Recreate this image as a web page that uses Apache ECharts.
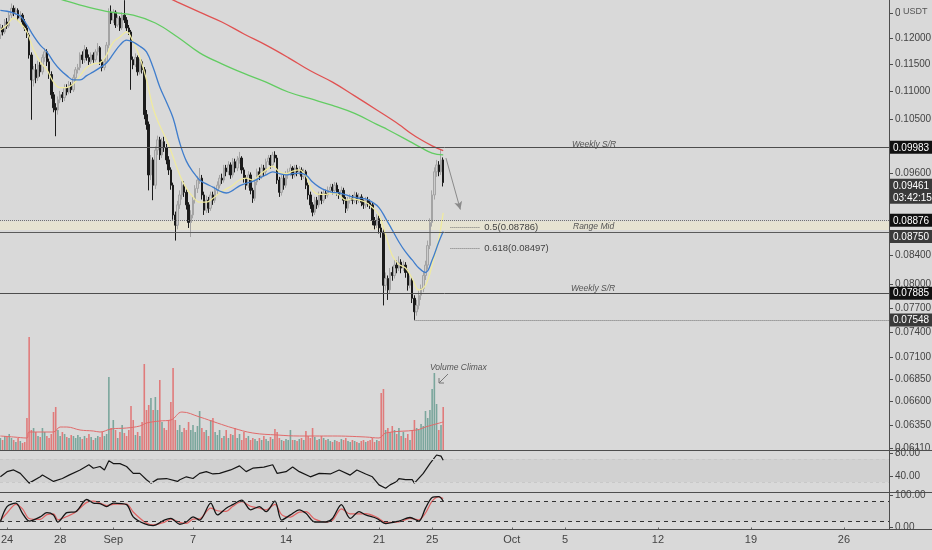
<!DOCTYPE html>
<html>
<head>
<meta charset="utf-8">
<script src="https://cdn.jsdelivr.net/npm/echarts@6.0.0/dist/echarts.min.js"></script>
<style>
  html, body { margin: 0; padding: 0; background: #d9d9d9; }
  #chart { width: 932px; height: 550px; }
</style>
</head>
<body>
<div id="chart"></div>
<script>
// 4h candles, the first one opens 2020-08-23 12:00 UTC
var startTime = Date.UTC(2020, 7, 23, 12);
var step = 4 * 3600 * 1000;
var xMin = Date.UTC(2020, 7, 23, 11, 20);
var xMax = Date.UTC(2020, 9, 29, 9, 20);

// [open, close, low, high]
var candles = [
  [.1206,.1220,.1198,.1228],[.1220,.1212,.1205,.1226],[.1212,.1232,.1208,.1238],[.1232,.1224,.1218,.1240],
  [.1224,.1246,.1220,.1252],[.1246,.1260,.1240,.1270],[.1260,.1252,.1244,.1266],[.1252,.1256,.1246,.1262],
  [.1256,.1240,.1234,.1260],[.1240,.1246,.1236,.1254],[.1246,.1232,.1226,.1250],[.1232,.1220,.1214,.1238],
  [.1220,.1206,.1200,.1226],[.1206,.1167,.1160,.1210],[.1167,.1120,.1049,.1172],[.1120,.1139,.1108,.1146],
  [.1139,.1124,.1114,.1150],[.1124,.1148,.1118,.1156],[.1148,.1135,.1126,.1154],[.1135,.1162,.1130,.1168],
  [.1162,.1173,.1154,.1180],[.1173,.1154,.1146,.1178],[.1154,.1130,.1122,.1160],[.1130,.1093,.1086,.1136],
  [.1093,.1070,.1062,.1098],[.1070,.1066,.1021,.1078],[.1066,.1084,.1058,.1090],[.1084,.1093,.1078,.1100],
  [.1093,.1088,.1080,.1098],[.1088,.1106,.1082,.1112],[.1106,.1098,.1092,.1112],[.1098,.1111,.1094,.1118],
  [.1111,.1102,.1096,.1116],[.1102,.1124,.1098,.1130],[.1124,.1139,.1118,.1144],[.1139,.1143,.1132,.1150],
  [.1143,.1167,.1138,.1172],[.1167,.1158,.1150,.1174],[.1158,.1177,.1152,.1186],[.1177,.1162,.1156,.1182],
  [.1162,.1154,.1148,.1168],[.1154,.1167,.1150,.1172],[.1167,.1158,.1152,.1172],[.1158,.1173,.1154,.1178],
  [.1173,.1181,.1166,.1190],[.1181,.1154,.1148,.1184],[.1154,.1143,.1136,.1158],[.1143,.1154,.1138,.1160],
  [.1154,.1186,.1150,.1192],[.1186,.1252,.1180,.1260],[.1252,.1236,.1228,.1266],[.1236,.1252,.1230,.1258],
  [.1252,.1226,.1220,.1256],[.1226,.1240,.1222,.1246],[.1240,.1220,.1214,.1244],[.1220,.1246,.1216,.1252],
  [.1246,.1236,.1230,.1277],[.1236,.1220,.1214,.1242],[.1220,.1212,.1206,.1226],[.1212,.1158,.1102,.1216],
  [.1158,.1148,.1140,.1164],[.1148,.1162,.1144,.1170],[.1162,.1135,.1128,.1166],[.1135,.1154,.1130,.1160],
  [.1154,.1139,.1132,.1158],[.1139,.1058,.1050,.1144],[.1058,.1041,.1032,.1066],[.1041,.0958,.0934,.1046],
  [.0958,.0982,.0950,.0990],[.0982,.0942,.0919,.0986],[.0942,.0998,.0936,.1004],[.0998,.1015,.0990,.1022],
  [.1015,.0990,.0982,.1020],[.0990,.1012,.0985,.1018],[.1012,.1002,.0995,.1020],[.1002,.0982,.0975,.1008],
  [.0982,.0966,.0958,.0988],[.0966,.0942,.0935,.0970],[.0942,.0897,.0890,.0946],[.0897,.0882,.0860,.0902],
  [.0882,.0912,.0876,.0918],[.0912,.0927,.0906,.0934],[.0927,.0942,.0920,.0948],[.0942,.0931,.0924,.0948],
  [.0931,.0912,.0905,.0936],[.0912,.0886,.0878,.0916],[.0886,.0897,.0865,.0904],[.0897,.0919,.0892,.0924],
  [.0919,.0937,.0914,.0942],[.0937,.0950,.0930,.0956],[.0950,.0953,.0944,.0969],[.0953,.0927,.0920,.0958],
  [.0927,.0904,.0897,.0932],[.0904,.0919,.0900,.0926],[.0919,.0907,.0900,.0924],[.0907,.0927,.0903,.0932],
  [.0927,.0919,.0912,.0932],[.0919,.0934,.0915,.0940],[.0934,.0942,.0928,.0948],[.0942,.0953,.0937,.0958],
  [.0953,.0950,.0944,.0960],[.0950,.0969,.0946,.0974],[.0969,.0963,.0956,.0974],[.0963,.0974,.0958,.0980],
  [.0974,.0958,.0952,.0978],[.0958,.0979,.0954,.0985],[.0979,.0969,.0962,.0984],[.0969,.0982,.0964,.0988],
  [.0982,.0985,.0976,.0995],[.0985,.0966,.0960,.0988],[.0966,.0953,.0946,.0970],[.0953,.0942,.0935,.0958],
  [.0942,.0958,.0938,.0964],[.0958,.0934,.0928,.0962],[.0934,.0922,.0915,.0938],[.0922,.0947,.0918,.0952],
  [.0947,.0963,.0942,.0968],[.0963,.0956,.0950,.0970],[.0956,.0969,.0952,.0975],[.0969,.0963,.0956,.0974],
  [.0963,.0979,.0958,.0984],[.0979,.0985,.0974,.0990],[.0985,.0974,.0968,.0990],[.0974,.0990,.0970,.0995],
  [.0990,.0985,.0978,.0996],[.0985,.0950,.0944,.0990],[.0950,.0931,.0924,.0955],[.0931,.0953,.0926,.0958],
  [.0953,.0942,.0935,.0958],[.0942,.0958,.0938,.0964],[.0958,.0963,.0952,.0968],[.0963,.0969,.0956,.0975],
  [.0969,.0958,.0952,.0972],[.0958,.0969,.0954,.0974],[.0969,.0963,.0956,.0974],[.0963,.0966,.0958,.0972],
  [.0966,.0956,.0950,.0970],[.0956,.0963,.0952,.0968],[.0963,.0942,.0936,.0966],[.0942,.0927,.0920,.0946],
  [.0927,.0912,.0906,.0932],[.0912,.0901,.0895,.0916],[.0901,.0919,.0897,.0924],[.0919,.0912,.0906,.0924],
  [.0912,.0927,.0908,.0932],[.0927,.0919,.0913,.0932],[.0919,.0930,.0915,.0936],[.0930,.0927,.0921,.0935],
  [.0927,.0934,.0923,.0940],[.0934,.0939,.0930,.0944],[.0939,.0934,.0928,.0944],[.0934,.0942,.0930,.0947],
  [.0942,.0931,.0926,.0946],[.0931,.0927,.0921,.0936],[.0927,.0934,.0923,.0940],[.0934,.0919,.0913,.0938],
  [.0919,.0907,.0900,.0924],[.0907,.0919,.0903,.0924],[.0919,.0922,.0914,.0928],[.0922,.0919,.0913,.0927],
  [.0919,.0927,.0915,.0932],[.0927,.0919,.0913,.0931],[.0919,.0924,.0915,.0930],[.0924,.0916,.0910,.0928],
  [.0916,.0912,.0906,.0920],[.0912,.0919,.0907,.0924],[.0919,.0915,.0909,.0924],[.0915,.0912,.0906,.0920],
  [.0912,.0889,.0882,.0916],[.0889,.0882,.0876,.0894],[.0882,.0892,.0878,.0898],[.0892,.0878,.0870,.0896],
  [.0878,.0872,.0864,.0884],[.0872,.0799,.0773,.0876],[.0799,.0808,.0792,.0816],[.0808,.0793,.0780,.0812],
  [.0793,.0816,.0788,.0822],[.0816,.0812,.0805,.0824],[.0812,.0826,.0808,.0834],[.0826,.0822,.0815,.0832],
  [.0822,.0830,.0818,.0838],[.0830,.0822,.0815,.0834],[.0822,.0826,.0818,.0832],[.0826,.0816,.0809,.0830],
  [.0816,.0799,.0792,.0820],[.0799,.0806,.0795,.0812],[.0806,.0782,.0776,.0810],[.0782,.0765,.07548,.0786],
  [.0765,.0773,.0760,.0780],[.0773,.0786,.0768,.0792],[.0786,.0795,.0780,.0800],[.0795,.0812,.0790,.0818],
  [.0812,.0826,.0806,.0832],[.0826,.0853,.0820,.0860],[.0853,.0886,.0848,.0892],[.0886,.0927,.0880,.0934],
  [.0927,.0963,.0920,.0970],[.0963,.0974,.0955,.0982],[.0974,.0963,.0956,.0980],[.0963,.0982,.0958,.09983],
  [.0982,.09461,.0940,.0986]
];

var volumes = [
  12,10,14,13,16,12,10,8,12,9,7,8,32,113,20,22,18,14,13,22,18,14,12,16,38,
  43,20,14,18,16,13,12,15,14,12,15,13,11,14,12,16,13,10,12,14,13,18,14,16,73,
  22,30,20,12,18,25,17,14,20,44,30,15,18,14,28,
  86,40,45,52,40,53,40,70,28,22,20,30,48,82,30,20,25,18,22,20,28,20,25,18,24,39,
  22,18,20,14,30,32,18,15,20,12,14,20,12,16,15,22,12,16,10,18,12,14,10,12,11,9,12,10,14,11,9,13,11,21,18,12,10,9,11,10,
  20,10,10,9,11,12,10,19,14,12,22,13,10,11,14,12,10,11,9,8,10,9,8,11,10,12,9,8,10,9,8,7,9,10,8,9,10,12,8,10,9,
  57,61,20,22,18,24,20,16,22,14,18,12,16,10,20,30,22,20,26,24,39,32,40,61,77,46,20,25,43
];

// [candle index, value]
var volumeMA = [[0,14],[6,13],[12,12],[13,18],[24,18],[27,23],[30,23],[36,20],[42,19],[45,18],[50,21],[57,22],
  [63,24],[66,27],[72,29],[77,30],[82,38],[90,33],[98,27],[105,22],[114,17],[125,15],[135,14],[150,14],[165,13],
  [171,12],[174,17],[188,20],[192,23],[200,28]];

var emaSlow = [[0,.1256],[3,.1254],[6,.1250],[9,.1244],[12,.1226],[15,.1204],[18,.1186],[21,.1173],[24,.1154],
  [27,.1139],[30,.1128],[33,.1120],[36,.1120],[39,.1128],[42,.1135],[45,.1143],[48,.1152],[51,.1169],[54,.1186],
  [57,.1196],[60,.1192],[63,.1184],[66,.1173],[69,.1143],[72,.1107],[75,.1080],[78,.1052],[81,.1010],[84,.0980],
  [87,.0963],[90,.0950],[93,.0944],[96,.0939],[99,.0933],[102,.0930],[105,.0934],[108,.0941],[111,.0945],
  [114,.0948],[117,.0953],[120,.0958],[123,.0963],[126,.0960],[129,.0958],[132,.0960],[135,.0961],[138,.0958],
  [141,.0947],[144,.0939],[147,.0934],[150,.0931],[153,.0930],[156,.0927],[159,.0924],[162,.0922],[165,.0921],
  [168,.0916],[171,.0908],[174,.0892],[177,.0875],[180,.0858],[183,.0844],[186,.0833],[189,.0822],[192,.0816],
  [195,.0833],[198,.0858],[200,.0873]];

var emaFast = [[0,.1216],[3,.1226],[6,.1240],[9,.1230],[12,.1212],[15,.1177],[18,.1154],[21,.1139],[24,.1116],
  [27,.1106],[30,.1106],[33,.1113],[36,.1128],[39,.1143],[42,.1150],[45,.1152],[48,.1167],[51,.1192],[54,.1202],
  [57,.1212],[60,.1192],[63,.1162],[66,.1120],[69,.1069],[72,.1039],[75,.1015],[78,.0987],[81,.0958],[84,.0937],
  [87,.0924],[90,.0916],[93,.0916],[96,.0922],[99,.0930],[102,.0936],[105,.0942],[108,.0950],[111,.0953],
  [114,.0950],[117,.0958],[120,.0966],[123,.0972],[126,.0963],[129,.0960],[132,.0964],[135,.0966],[138,.0956],
  [141,.0934],[144,.0928],[147,.0928],[150,.0930],[153,.0927],[156,.0919],[159,.0921],[162,.0919],[165,.0916],
  [168,.0908],[171,.0897],[174,.0868],[177,.0839],[180,.0827],[183,.0822],[186,.0808],[189,.0793],[192,.0799],
  [195,.0826],[198,.0863],[200,.0900]];

var maGreen = [[20,.1290],[30,.1275],[40,.1262],[50,.1252],[60,.1246],[70,.1230],[80,.1202],[90,.1171],
  [100,.1150],[110,.1132],[120,.1116],[130,.1098],[140,.1086],[150,.1074],[160,.1060],[170,.1041],[175,.1032],
  [185,.1012],[190,.1002],[195,.0993],[200,.0990]];

var maRed = [[70,.1295],[75,.1284],[80,.1273],[90,.1252],[100,.1232],[110,.1208],[120,.1186],[130,.1162],
  [140,.1137],[150,.1116],[160,.1091],[170,.1066],[180,.1041],[185,.1027],[190,.1015],[195,.1005],[200,.0997]];

var rsi = [[0,39],[3,48],[6,51],[9,45],[13,28],[18,39],[19,42],[24,31],[28,36],[31,42],[36,51],[40,60],[42,54],
  [45,57],[47,51],[49,67],[51,62],[54,62],[57,57],[60,45],[63,45],[66,34],[68,28],[71,35],[75,36],[80,31],[81,34],
  [84,39],[87,36],[90,45],[93,48],[96,44],[99,45],[104,51],[108,58],[111,48],[114,54],[119,56],[123,60],[125,45],
  [129,48],[132,56],[135,48],[140,39],[144,45],[149,44],[153,51],[158,42],[161,51],[165,44],[168,39],[171,25],
  [174,19],[176,25],[179,31],[180,36],[183,34],[186,34],[187,28],[191,45],[194,62],[197,77],[199,75],[200,68]];

// [candle index, %K, %D]
var stoch = [[0,17,22],[3,65,45],[7,76,72],[10,44,58],[13,20,28],[18,33,25],[21,46,40],[24,39,42],[26,17,24],
  [30,46,34],[34,49,48],[39,87,78],[42,76,82],[45,74,76],[48,65,68],[51,76,72],[57,71,73],[60,33,48],[65,12,18],
  [69,6,8],[74,23,16],[77,28,26],[81,10,16],[84,17,13],[87,33,26],[90,23,27],[95,76,60],[98,39,52],[102,60,50],
  [105,71,66],[109,85,80],[113,55,66],[117,65,60],[120,49,55],[124,82,72],[127,23,40],[131,39,32],[135,55,48],
  [138,44,49],[142,17,26],[147,17,17],[150,28,22],[154,71,58],[158,28,42],[162,49,42],[165,39,43],[170,28,32],
  [174,12,16],[180,20,17],[185,31,28],[189,20,24],[192,60,45],[195,93,82],[198,96,95],[200,82,90]];

var priceTicks = [0.125, 0.12, 0.115, 0.11, 0.105, 0.096, 0.084, 0.08, 0.077, 0.074, 0.071, 0.0685, 0.066, 0.0635, 0.0611];
var dateTicks = [Date.UTC(2020,7,24), Date.UTC(2020,7,28), Date.UTC(2020,8,1), Date.UTC(2020,8,7), Date.UTC(2020,8,14),
  Date.UTC(2020,8,21), Date.UTC(2020,8,25), Date.UTC(2020,9,1), Date.UTC(2020,9,5), Date.UTC(2020,9,12),
  Date.UTC(2020,9,19), Date.UTC(2020,9,26)];
var months = ['Jan','Feb','Mar','Apr','May','Jun','Jul','Aug','Sep','Oct','Nov','Dec'];

// drawn levels
var srHigh = 0.09983, srLow = 0.07885, rangeTop = 0.08876, rangeBottom = 0.08750;
var swingLow = 0.07548, lastClose = 0.09461, fib50 = 0.08786, fib618 = 0.08497;
var fibStart = Date.UTC(2020,8,26,9), fibEnd = Date.UTC(2020,8,28,15);
var arrowFrom = [Date.UTC(2020,8,26,1), 0.0985], arrowTo = [Date.UTC(2020,8,27,3), 0.0905];

var L = Math.log;
var priceMin = L(0.06094), priceMax = L(0.12774);
function T(i) { return startTime + i * step; }
function lineData(pairs) { return pairs.map(function (p) { return [T(p[0]), L(p[1])]; }); }

var priceData = candles.map(function (c, i) { return [T(i), L(c[0]), L(c[1]), L(c[2]), L(c[3])]; });
var volData = volumes.map(function (v, i) {
  var c = candles[i];
  return { value: [T(i), v], itemStyle: { color: c[1] >= c[0] ? '#7aa69c' : '#e07b7b' } };
});

var axisColor = '#4d4d4d';
var labelFont = 'Liberation Sans';
function tagRich(bg) {
  return { a: { backgroundColor: bg, color: '#fff', fontSize: 10, fontFamily: labelFont, padding: [2, 3, 1, 3], width: 37, lineHeight: 12 } };
}
function tag(text, bg, pad) {
  return { show: true, position: 'end', distance: 1, formatter: text, rich: tagRich(bg), padding: pad || 0 };
}
// time runs along plain value axes holding UTC timestamps
function xAxisFor(idx, showLabels) {
  return {
    type: 'value', gridIndex: idx, min: xMin, max: xMax,
    axisLine: { show: false }, splitLine: { show: false },
    axisTick: showLabels ? { show: true, length: 2, customValues: dateTicks, lineStyle: { color: '#666' } } : { show: false },
    axisLabel: showLabels ? {
      show: true, customValues: dateTicks, color: '#444', fontSize: 11, fontFamily: labelFont, margin: 5,
      formatter: function (v) { var d = new Date(v); return d.getUTCDate() === 1 ? months[d.getUTCMonth()] : String(d.getUTCDate()); }
    } : { show: false }
  };
}
function rightAxis(idx, min, max, ticks, fmt) {
  return {
    type: 'value', gridIndex: idx, position: 'right', min: min, max: max,
    splitLine: { show: false },
    axisLine: { show: true, lineStyle: { color: axisColor } },
    axisTick: { show: true, length: 4, customValues: ticks, lineStyle: { color: axisColor } },
    axisLabel: { customValues: ticks, formatter: fmt, color: '#444', fontSize: 10, fontFamily: labelFont, margin: 6 }
  };
}
function note(x, y, text) {
  return { type: 'text', x: x, y: y, z: 100, silent: true,
    style: { text: text, fill: '#555', fontSize: 8.5, fontStyle: 'italic', fontFamily: labelFont, verticalAlign: 'middle' } };
}

var option = {
  animation: false,
  backgroundColor: '#d9d9d9',
  grid: [
    { left: 0, right: 43, top: 0, height: 450, outerBoundsMode: 'none' },
    { left: 0, right: 43, top: 330, height: 120, outerBoundsMode: 'none' },
    { left: 0, right: 43, top: 450, height: 42.5, outerBoundsMode: 'none' },
    { left: 0, right: 43, top: 492.5, height: 36.5, outerBoundsMode: 'none' }
  ],
  xAxis: [xAxisFor(0, false), xAxisFor(1, false), xAxisFor(2, false), xAxisFor(3, true)],
  yAxis: [
    rightAxis(0, priceMin, priceMax, priceTicks.map(L), function (v) { return Math.exp(v).toFixed(5); }),
    { type: 'value', gridIndex: 1, min: 0, max: 120, show: false },
    rightAxis(2, 11.7, 85.7, [40, 80], function (v) { return v.toFixed(2); }),
    rightAxis(3, -4.7, 108.7, [0, 100], function (v) { return v.toFixed(2); })
  ],
  series: [
    {
      type: 'candlestick', xAxisIndex: 0, yAxisIndex: 0, data: priceData,
      encode: { x: 0, y: [1, 2, 3, 4] }, barWidth: 2,
      itemStyle: { color: '#cdcdcd', color0: '#1b1b1b', borderColor: '#a4a4a4', borderColor0: '#1b1b1b', borderWidth: 1 },
      markArea: {
        silent: true,
        itemStyle: { color: '#e6e3d1' },
        data: [[{ yAxis: L(rangeBottom) }, { yAxis: L(rangeTop) }]]
      },
      markLine: {
        silent: true, symbol: ['none', 'none'], animation: false,
        label: { show: true, position: 'end', distance: 1 },
        data: [
          { yAxis: L(srHigh), lineStyle: { color: axisColor, type: 'solid', width: 1 }, label: tag('{a|0.09983}', '#111') },
          { yAxis: L(rangeTop), lineStyle: { color: '#707070', type: 'dotted', width: 1 }, label: tag('{a|0.08876}', '#111') },
          { yAxis: L(rangeBottom), lineStyle: { color: '#5a5a5a', type: 'solid', width: 1 }, label: tag('{a|0.08750}', '#3a3a3a', [8, 0, 0, 0]) },
          { yAxis: L(srLow), lineStyle: { color: axisColor, type: 'solid', width: 1 }, label: tag('{a|0.07885}', '#111') },
          { yAxis: L(lastClose), lineStyle: { color: 'rgba(0,0,0,0)', width: 0 }, label: tag('{a|0.09461}\n{a|03:42:15}', '#3a3a3a', [15, 0, 0, 0]) },
          [
            { coord: [T(187), L(swingLow)], lineStyle: { color: '#707070', type: 'dotted', width: 1 } },
            { coord: [xMax, L(swingLow)], label: tag('{a|0.07548}', '#3a3a3a') }
          ],
          [
            { coord: [fibStart, L(fib50)], lineStyle: { color: '#777', type: 'dotted', width: 1 } },
            { coord: [fibEnd, L(fib50)], label: { show: true, position: 'end', distance: 4, formatter: '0.5(0.08786)', color: '#444', fontSize: 9.5, fontFamily: labelFont } }
          ],
          [
            { coord: [fibStart, L(fib618)], lineStyle: { color: '#777', type: 'dotted', width: 1 } },
            { coord: [fibEnd, L(fib618)], label: { show: true, position: 'end', distance: 4, formatter: '0.618(0.08497)', color: '#444', fontSize: 9.5, fontFamily: labelFont } }
          ],
          [
            { coord: [arrowFrom[0], L(arrowFrom[1])], symbol: 'none', lineStyle: { color: '#8a8a8a', type: 'solid', width: 1 }, label: { show: false } },
            { coord: [arrowTo[0], L(arrowTo[1])], symbol: 'arrow', symbolSize: [6, 8] }
          ]
        ]
      }
    },
    { type: 'line', xAxisIndex: 0, yAxisIndex: 0, data: lineData(emaFast), smooth: 0.4, symbol: 'none', lineStyle: { color: '#efeaa0', width: 1.3 } },
    { type: 'line', xAxisIndex: 0, yAxisIndex: 0, data: lineData(emaSlow), smooth: 0.4, symbol: 'none', lineStyle: { color: '#3f7dcc', width: 1.3 } },
    { type: 'line', xAxisIndex: 0, yAxisIndex: 0, data: lineData(maGreen), smooth: 0.4, symbol: 'none', lineStyle: { color: '#62cc62', width: 1.3 } },
    { type: 'line', xAxisIndex: 0, yAxisIndex: 0, data: lineData(maRed), smooth: 0.4, symbol: 'none', lineStyle: { color: '#e05252', width: 1.3 } },
    { type: 'bar', xAxisIndex: 1, yAxisIndex: 1, data: volData, barWidth: 1.6 },
    {
      type: 'line', xAxisIndex: 1, yAxisIndex: 1, smooth: 0.4, symbol: 'none',
      data: volumeMA.map(function (p) { return [T(p[0]), p[1]]; }),
      lineStyle: { color: '#e06a6a', width: 1 }
    },
    {
      type: 'line', xAxisIndex: 2, yAxisIndex: 2, symbol: 'none',
      data: rsi.map(function (p) { return [T(p[0]), p[1]]; }),
      lineStyle: { color: '#151515', width: 1.2 },
      markArea: { silent: true, itemStyle: { color: 'rgba(0,0,0,0.035)' }, data: [[{ yAxis: 30 }, { yAxis: 70 }]] },
      markLine: {
        silent: true, symbol: ['none', 'none'], label: { show: false },
        lineStyle: { color: '#c8c8c8', type: [3, 3], width: 1 },
        data: [{ yAxis: 70 }, { yAxis: 30 }]
      }
    },
    {
      type: 'line', xAxisIndex: 3, yAxisIndex: 3, symbol: 'none', smooth: 0.3,
      data: stoch.map(function (p) { return [T(p[0]), p[2]]; }),
      lineStyle: { color: '#e06262', width: 1.2 },
      markArea: { silent: true, itemStyle: { color: 'rgba(0,0,0,0.035)' }, data: [[{ yAxis: 20 }, { yAxis: 80 }]] },
      markLine: {
        silent: true, symbol: ['none', 'none'], label: { show: false },
        lineStyle: { color: '#333', type: [4, 4], width: 1 },
        data: [{ yAxis: 80 }, { yAxis: 20 }]
      }
    },
    {
      type: 'line', xAxisIndex: 3, yAxisIndex: 3, symbol: 'none', smooth: 0.3,
      data: stoch.map(function (p) { return [T(p[0]), p[1]]; }),
      lineStyle: { color: '#151515', width: 1.3 }
    }
  ],
  graphic: [
    { type: 'line', z: 100, shape: { x1: 0, y1: 450.5, x2: 932, y2: 450.5 }, style: { stroke: axisColor, lineWidth: 1 }, silent: true },
    { type: 'line', z: 100, shape: { x1: 0, y1: 492.5, x2: 932, y2: 492.5 }, style: { stroke: axisColor, lineWidth: 1 }, silent: true },
    { type: 'line', z: 100, shape: { x1: 0, y1: 529.5, x2: 932, y2: 529.5 }, style: { stroke: axisColor, lineWidth: 1 }, silent: true },
    { type: 'rect', z: 100, shape: { x: 900, y: 5, width: 32, height: 15 }, style: { fill: '#d9d9d9' }, silent: true },
    { type: 'text', z: 101, x: 903, y: 12, style: { text: 'USDT', fill: '#555', fontSize: 9, fontFamily: labelFont, verticalAlign: 'middle' }, silent: true },
    note(572, 145, 'Weekly S/R'),
    note(573, 227, 'Range Mid'),
    note(571, 289, 'Weekly S/R'),
    note(430, 368, 'Volume Climax'),
    { type: 'polyline', z: 100, shape: { points: [[448, 374], [439, 383]] }, style: { stroke: '#777', lineWidth: 1 }, silent: true },
    { type: 'polyline', z: 100, shape: { points: [[439, 378], [439, 383], [444, 383]] }, style: { stroke: '#777', lineWidth: 1, fill: null }, silent: true }
  ]
};

var chart = echarts.init(document.getElementById('chart'));
chart.setOption(option);
</script>
</body>
</html>
